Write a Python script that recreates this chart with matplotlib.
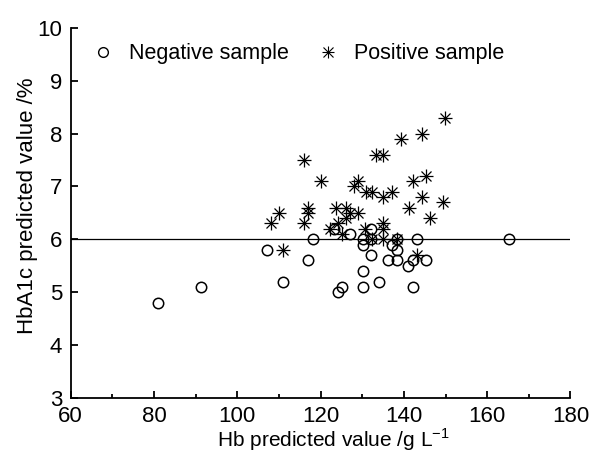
import matplotlib
matplotlib.use("Agg")
import matplotlib.pyplot as plt
from matplotlib.ticker import MultipleLocator
from matplotlib.lines import Line2D

plt.rcParams['font.family'] = ['Liberation Sans', 'DejaVu Sans']
plt.rcParams['mathtext.fontset'] = 'custom'
plt.rcParams['mathtext.rm'] = 'Liberation Sans'

neg_hb = [81.0, 91.4, 107.1, 111.0, 118.1, 117.1, 123.2, 127.1, 130.1, 130.1,
          132.1, 132.1, 132.1, 130.1, 130.1, 125.1, 124.1, 134.1, 137.1, 138.3,
          138.3, 136.2, 138.3, 141.1, 142.1, 145.2, 143.2, 142.1, 165.2]
neg_a1c = [4.8, 5.1, 5.8, 5.2, 6.0, 5.6, 6.2, 6.1, 6.0, 5.9,
           6.0, 6.2, 5.7, 5.4, 5.1, 5.1, 5.0, 5.2, 5.9, 6.0,
           5.8, 5.6, 5.6, 5.5, 5.6, 5.6, 6.0, 5.1, 6.0]

pos_hb = [149.9, 144.3, 139.2, 133.3, 135.1, 116.0, 120.2, 129.1, 128.1, 130.9,
          132.3, 135.1, 137.1, 142.2, 145.3, 144.3, 149.3, 141.2, 146.3, 110.1,
          108.1, 117.1, 117.1, 116.0, 123.8, 126.1, 126.1, 127.1, 129.0, 122.2,
          125.1, 130.7, 132.3, 135.0, 135.0, 135.0, 138.3, 111.0, 143.1, 124.2]
pos_a1c = [8.3, 8.0, 7.9, 7.6, 7.6, 7.5, 7.1, 7.1, 7.0, 6.9,
           6.9, 6.8, 6.9, 7.1, 7.2, 6.8, 6.7, 6.6, 6.4, 6.5,
           6.3, 6.6, 6.5, 6.3, 6.6, 6.6, 6.4, 6.5, 6.5, 6.2,
           6.1, 6.2, 6.0, 6.3, 6.2, 6.0, 6.0, 5.8, 5.7, 6.3]

threshold = 6.0

fig = plt.figure(figsize=(5.93, 4.55), dpi=100)
ax = fig.add_axes([0.1192, 0.1253, 0.8428, 0.8138])

ax.axhline(threshold, color='black', lw=0.9, zorder=1)

ax.plot(neg_hb, neg_a1c, linestyle='none', marker='o', markersize=7.5,
        markerfacecolor='none', markeredgecolor='black', markeredgewidth=1.1, zorder=3)
ax.plot(pos_hb, pos_a1c, linestyle='none', marker='+', markersize=9.5,
        color='black', markeredgewidth=0.9, zorder=3)
ax.plot(pos_hb, pos_a1c, linestyle='none', marker='x', markersize=7.5,
        color='black', markeredgewidth=0.9, zorder=3)

h_neg = Line2D([], [], linestyle='none', marker='o', markersize=7,
               markerfacecolor='none', markeredgecolor='black', markeredgewidth=1.0)
h_p1 = Line2D([], [], linestyle='none', marker='+', markersize=8.5, color='black', markeredgewidth=0.8)
h_p2 = Line2D([], [], linestyle='none', marker='x', markersize=6.5, color='black', markeredgewidth=0.8)
ax.legend([h_neg, (h_p1, h_p2)], ['Negative sample', 'Positive sample'],
          loc='upper left', bbox_to_anchor=(0.005, 1.01), ncol=2, frameon=False,
          fontsize=15.5, handlelength=1.0, handletextpad=0.7, columnspacing=1.3)

ax.set_xlim(60, 180)
ax.set_ylim(3, 10)
ax.xaxis.set_major_locator(MultipleLocator(20))
ax.xaxis.set_minor_locator(MultipleLocator(10))
ax.yaxis.set_major_locator(MultipleLocator(1))

for s in ['top', 'right']:
    ax.spines[s].set_visible(False)
for s in ['left', 'bottom']:
    ax.spines[s].set_linewidth(1.3)

ax.tick_params(axis='x', which='major', direction='in', length=5, width=1.3,
               labelsize=16, pad=6)
ax.tick_params(axis='y', which='major', direction='in', length=5, width=1.3,
               labelsize=16, pad=6)
ax.tick_params(axis='both', which='minor', direction='in', length=3, width=1.3)

ax.set_xlabel('Hb predicted value /g L$^{-1}$', fontsize=15)
ax.set_ylabel('HbA1c predicted value /%', fontsize=16)
ax.xaxis.set_label_coords(0.525, -0.077)
ax.yaxis.set_label_coords(-0.065, 0.52)

fig.savefig('out.png', dpi=100)
